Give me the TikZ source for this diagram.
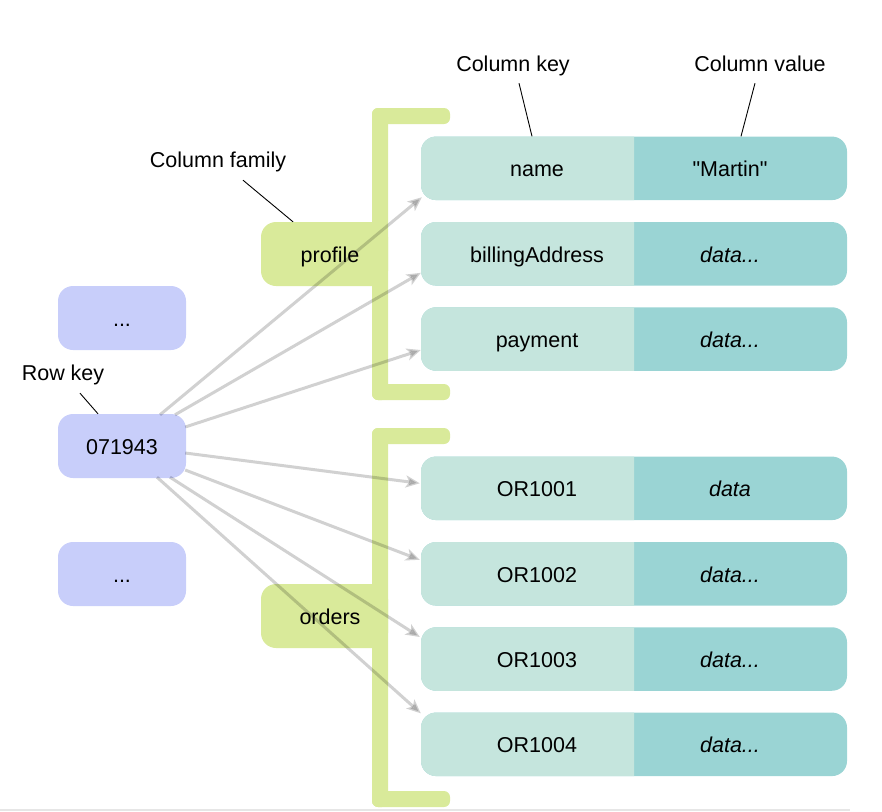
\documentclass[tikz,border=0pt]{standalone}
\usepackage{fontspec}
\setmainfont{Liberation Sans}[Ligatures=TeXOff]
\usetikzlibrary{arrows.meta,calc}
\definecolor{keycol}{HTML}{C5E5DD}
\definecolor{valcol}{HTML}{9AD4D4}
\definecolor{famcol}{HTML}{D9EA9A}
\definecolor{rowcol}{HTML}{C8CEFA}
\definecolor{rulecol}{HTML}{E6E6E6}
\newcommand\cfrow[4]{%
  \fill[valcol, rounded corners=15] (421,{#2-31.75}) rectangle (847,{#2+31.75});
  \begin{scope}
    \clip (421,{#2-32}) rectangle (634,{#2+32});
    \fill[keycol, rounded corners=15] (421,{#2-31.75}) rectangle (847,{#2+31.75});
  \end{scope}
  \node[txt, minimum width=232, minimum height=63.5] (#1k) at (537,#2) {#3};
  \node[txt, minimum width=234, minimum height=63.5] (#1v) at (730,#2) {#4};
}
\begin{document}
\begin{tikzpicture}[x=1pt,y=-1pt,
  txt/.style={font=\fontsize{21.5}{26}\selectfont, text height=17pt, text depth=0pt, inner sep=0pt},
  rowbox/.style={txt, fill=rowcol, rounded corners=15, minimum width=128, minimum height=64},
  fambox/.style={txt, fill=famcol, rounded corners=15, minimum width=127, minimum height=64},
  arr/.style={draw=black, opacity=0.18, line width=3pt, -{Stealth[length=14pt,width=12pt,inset=3.5pt]}},
  ptr/.style={draw=black, line width=0.9pt}
]
\useasboundingbox (0,0) rectangle (882,811);
% bottom rule
\draw[rulecol, line width=2pt] (0,809.5) -- (850,809.5);
% column rows
\cfrow{p1}{168.3}{name}{"Martin"}
\cfrow{p2}{253.8}{billingAddress}{\itshape data...}
\cfrow{p3}{339}{payment}{\itshape data...}
\cfrow{o1}{488.3}{OR1001}{\itshape data}
\cfrow{o2}{573.8}{OR1002}{\itshape data...}
\cfrow{o3}{659}{OR1003}{\itshape data...}
\cfrow{o4}{744.3}{OR1004}{\itshape data...}
% brackets
\fill[famcol, rounded corners=6] (372,108) rectangle (450,124);
\fill[famcol, rounded corners=6] (372,108) rectangle (388,400);
\fill[famcol, rounded corners=6] (372,384) rectangle (450,400);
\fill[famcol, rounded corners=6] (372,428) rectangle (450,444);
\fill[famcol, rounded corners=6] (372,428) rectangle (388,807);
\fill[famcol, rounded corners=6] (372,791) rectangle (450,807);
% family boxes
\node[fambox] (profile) at (324.5,254) {\hspace*{11pt}profile};
\node[fambox] (orders) at (324.5,616) {\hspace*{11pt}orders};
% row keys
\node[rowbox] (rka) at (122,318) {...};
\node[rowbox] (rk) at (122,446) {071943};
\node[rowbox] (rkb) at (122,574) {...};
% labels
\node[txt] (rkl) at (63,371.5) {Row key};
\node[txt] (cfl) at (218,158.5) {Column family};
\node[txt] (ckl) at (513,62.5) {Column key};
\node[txt] (cvl) at (760,62.5) {Column value};
\draw[ptr] ($(rkl.south)+(17,13)$) -- ($(rk.north)+(-24,0)$);
\draw[ptr] ($(cfl.south)+(25,13)$) -- ($(profile.north)+(-31.5,0)$);
\draw[ptr] ($(ckl.south)+(6,12)$) -- ($(p1k.north)+(-5,0)$);
\draw[ptr] ($(cvl.south)+(-5,12)$) -- ($(p1v.north)+(11,0)$);
% arrows
\draw[arr] ($(rk.north)+(38,1)$) -- ($(p1k.south west)+(1,-3)$);
\draw[arr] ($(rk.north)+(53,1)$) -- ($(p2k.west)+(0,19)$);
\draw[arr] ($(rk.east)+(-1,-19)$) -- ($(p3k.west)+(0,11)$);
\draw[arr] ($(rk.east)+(-1,7)$) -- ($(o1k.west)+(-1,-5)$);
\draw[arr] ($(rk.east)+(-1,24)$) -- ($(o2k.west)+(-1,-14)$);
\draw[arr] ($(rk.south)+(48,-1)$) -- ($(o3k.west)+(-1,-22)$);
\draw[arr] ($(rk.south)+(35,-1)$) -- ($(o4k.north west)+(0,1)$);
\end{tikzpicture}
\end{document}
